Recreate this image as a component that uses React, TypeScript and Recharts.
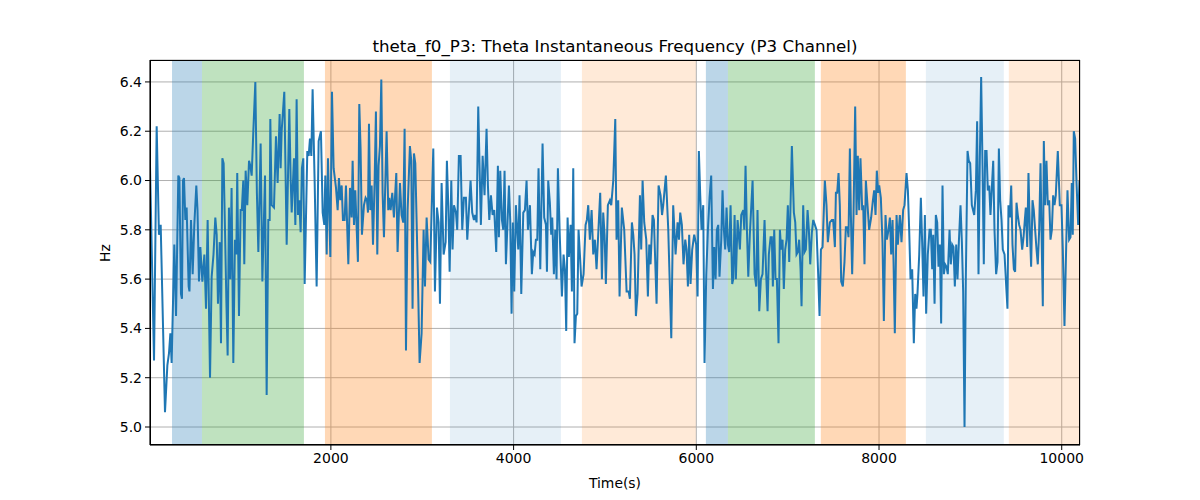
import React from "react";
import {
  LineChart,
  Line,
  XAxis,
  YAxis,
  CartesianGrid,
  ReferenceArea,
} from "recharts";

// readings of the P3 theta instantaneous frequency: [time (s), Hz]
const trace: [number, number][] = [
  [20, 6.06], [64, 5.27], [93, 6.22], [118, 5.78], [137, 5.82], [184, 5.06], [210, 5.25], [228, 5.3],
  [243, 5.38], [257, 5.26], [286, 5.74], [305, 5.45], [330, 6.02], [342, 6.01], [359, 5.54], [370, 5.52],
  [381, 6.0], [392, 6.01], [407, 5.84], [421, 5.89], [443, 5.57], [452, 5.55], [469, 5.84], [487, 5.62],
  [505, 5.82], [527, 5.98], [540, 5.88], [556, 5.59], [571, 5.73], [593, 5.59], [615, 5.7], [633, 5.48],
  [651, 5.84], [677, 5.2], [695, 5.61], [715, 5.7], [735, 5.85], [750, 5.78], [764, 5.5], [783, 5.75],
  [797, 5.34], [812, 6.09], [826, 6.07], [841, 5.8], [856, 5.51], [870, 5.29], [884, 5.89], [898, 5.6],
  [913, 5.97], [932, 5.26], [950, 5.76], [965, 5.7], [975, 6.03], [994, 5.45], [1012, 5.88], [1025, 5.88],
  [1041, 6.0], [1052, 5.66], [1067, 6.04], [1085, 5.9], [1104, 6.08], [1118, 6.06], [1133, 6.02], [1151, 6.2],
  [1173, 6.4], [1190, 5.95], [1206, 5.71], [1231, 6.15], [1250, 5.59], [1279, 6.02], [1297, 5.13], [1315, 5.84],
  [1330, 5.84], [1337, 6.25], [1352, 5.9], [1377, 5.89], [1399, 6.18], [1417, 5.99], [1439, 6.27], [1450, 6.05],
  [1461, 6.2], [1490, 6.36], [1516, 5.74], [1545, 6.29], [1560, 6.0], [1571, 5.87], [1596, 6.09], [1611, 5.82],
  [1625, 6.33], [1640, 5.86], [1654, 5.92], [1669, 5.79], [1683, 6.05], [1698, 6.09], [1713, 5.58], [1742, 6.12],
  [1757, 6.1], [1771, 6.17], [1786, 6.1], [1800, 6.37], [1822, 6.0], [1844, 5.57], [1866, 6.16], [1891, 6.2],
  [1910, 5.87], [1928, 5.82], [1939, 6.02], [1954, 5.7], [1968, 6.09], [1994, 5.69], [2012, 6.36], [2030, 6.05],
  [2056, 5.97], [2074, 5.88], [2088, 6.01], [2103, 5.92], [2118, 5.98], [2132, 5.84], [2150, 5.84], [2165, 5.98],
  [2191, 5.66], [2209, 5.97], [2227, 5.85], [2238, 6.08], [2253, 5.82], [2267, 5.96], [2296, 5.67], [2311, 6.31],
  [2325, 6.13], [2340, 5.78], [2362, 5.9], [2380, 5.93], [2395, 5.92], [2406, 5.87], [2417, 6.23], [2431, 5.88],
  [2446, 5.98], [2461, 5.74], [2479, 6.0], [2493, 6.28], [2508, 5.7], [2522, 6.06], [2537, 6.14], [2552, 6.41],
  [2566, 5.95], [2581, 5.77], [2610, 6.2], [2628, 5.88], [2639, 5.93], [2654, 5.88], [2672, 5.95], [2690, 5.85],
  [2716, 6.03], [2730, 5.71], [2756, 5.99], [2774, 5.86], [2792, 5.83], [2807, 6.21], [2822, 5.31], [2840, 5.88],
  [2865, 6.14], [2880, 6.08], [2894, 5.48], [2909, 6.11], [2924, 6.07], [2953, 5.6], [2971, 5.26], [2993, 5.38],
  [3015, 5.8], [3030, 5.57], [3048, 5.85], [3070, 5.68], [3088, 5.67], [3121, 6.13], [3139, 5.55], [3161, 5.89],
  [3179, 5.83], [3194, 5.5], [3212, 5.99], [3234, 5.7], [3256, 5.75], [3270, 6.08], [3285, 5.9], [3300, 5.63],
  [3318, 6.0], [3332, 5.72], [3347, 5.9], [3369, 5.87], [3383, 5.8], [3401, 6.1], [3420, 6.1], [3438, 5.8],
  [3456, 5.93], [3478, 5.93], [3493, 5.76], [3529, 6.0], [3547, 5.87], [3566, 5.84], [3580, 5.86], [3595, 5.83],
  [3613, 6.3], [3642, 5.82], [3661, 6.1], [3682, 5.94], [3704, 6.21], [3719, 5.98], [3734, 5.84], [3752, 5.94],
  [3770, 5.86], [3788, 5.88], [3810, 5.71], [3828, 6.06], [3839, 5.77], [3854, 6.04], [3872, 5.84], [3887, 5.8],
  [3901, 6.04], [3916, 5.66], [3949, 5.98], [3963, 5.84], [3978, 5.46], [3992, 5.83], [4007, 5.55], [4025, 5.9],
  [4051, 5.72], [4065, 5.94], [4084, 5.54], [4106, 5.87], [4124, 5.88], [4142, 6.0], [4157, 5.8], [4179, 5.9],
  [4200, 5.62], [4215, 5.71], [4230, 5.7], [4244, 5.76], [4259, 5.76], [4273, 6.05], [4292, 5.64], [4317, 6.15],
  [4335, 5.85], [4354, 5.82], [4365, 5.63], [4379, 6.0], [4397, 5.91], [4412, 5.78], [4423, 5.85], [4441, 5.62],
  [4456, 5.8], [4470, 5.6], [4485, 6.05], [4503, 5.8], [4529, 5.53], [4547, 5.7], [4562, 5.64], [4576, 5.39],
  [4591, 5.85], [4605, 5.69], [4624, 5.82], [4638, 5.55], [4653, 6.05], [4667, 5.34], [4682, 5.45], [4697, 5.46],
  [4711, 5.8], [4726, 5.7], [4744, 5.57], [4766, 5.62], [4788, 5.82], [4802, 5.84], [4817, 5.9], [4835, 5.76],
  [4854, 5.88], [4872, 5.7], [4890, 5.76], [4908, 5.64], [4926, 5.78], [4948, 5.95], [4967, 5.6], [4981, 5.87],
  [4996, 5.78], [5010, 5.58], [5032, 5.9], [5054, 5.92], [5069, 5.9], [5091, 6.0], [5113, 6.25], [5127, 5.76],
  [5145, 5.92], [5160, 5.53], [5185, 5.89], [5211, 5.8], [5237, 5.55], [5259, 5.55], [5273, 5.52], [5295, 5.83],
  [5310, 5.78], [5324, 5.7], [5339, 5.45], [5357, 5.54], [5383, 5.94], [5397, 5.72], [5412, 6.0], [5430, 5.83],
  [5452, 5.76], [5470, 5.53], [5485, 5.74], [5499, 5.66], [5521, 5.86], [5536, 5.84], [5565, 5.5], [5587, 5.98],
  [5609, 5.94], [5625, 5.86], [5638, 5.9], [5667, 6.02], [5693, 5.8], [5726, 5.36], [5747, 5.9], [5773, 5.7],
  [5795, 5.83], [5810, 5.76], [5824, 5.87], [5842, 5.82], [5860, 5.66], [5879, 5.76], [5893, 5.72], [5908, 5.57],
  [5922, 5.78], [5937, 5.58], [5955, 5.72], [5977, 5.78], [5999, 5.74], [6014, 5.53], [6028, 6.12], [6043, 5.94],
  [6057, 5.8], [6076, 5.9], [6090, 5.26], [6109, 5.62], [6127, 5.8], [6145, 5.93], [6163, 6.02], [6182, 5.56],
  [6196, 5.73], [6211, 5.6], [6225, 5.8], [6240, 5.82], [6254, 5.61], [6273, 5.76], [6287, 5.96], [6302, 5.8],
  [6316, 5.72], [6331, 5.89], [6346, 5.74], [6360, 5.71], [6375, 5.9], [6393, 5.58], [6404, 5.6], [6419, 5.86],
  [6433, 5.6], [6452, 5.84], [6477, 5.72], [6492, 5.86], [6514, 5.88], [6525, 5.8], [6539, 6.06], [6554, 5.8],
  [6569, 5.61], [6586, 5.78], [6616, 6.0], [6638, 5.62], [6656, 5.57], [6670, 5.88], [6689, 5.47], [6707, 5.6],
  [6725, 5.62], [6747, 5.84], [6762, 5.65], [6780, 5.47], [6794, 5.7], [6813, 5.77], [6827, 5.77], [6838, 5.57],
  [6853, 5.8], [6867, 5.6], [6882, 5.6], [6900, 5.34], [6915, 5.8], [6929, 5.72], [6944, 5.76], [6958, 5.56],
  [6973, 5.72], [6988, 5.76], [7002, 5.9], [7017, 5.67], [7046, 6.14], [7068, 5.87], [7083, 5.83], [7097, 5.7],
  [7112, 5.71], [7126, 5.76], [7141, 5.64], [7152, 5.49], [7170, 5.9], [7185, 5.71], [7199, 5.72], [7218, 5.88],
  [7232, 5.8], [7247, 5.66], [7265, 5.79], [7280, 5.84], [7298, 5.82], [7316, 5.8], [7334, 5.62], [7349, 5.45],
  [7364, 5.72], [7382, 5.73], [7407, 6.0], [7425, 5.9], [7440, 5.75], [7462, 5.83], [7484, 5.84], [7498, 5.84],
  [7517, 5.73], [7528, 5.95], [7542, 5.95], [7557, 6.03], [7571, 5.9], [7586, 5.59], [7604, 5.57], [7622, 5.67],
  [7637, 5.81], [7655, 5.81], [7666, 5.77], [7681, 6.13], [7692, 5.86], [7706, 5.62], [7721, 5.86], [7739, 6.3],
  [7754, 5.86], [7768, 6.1], [7783, 5.88], [7797, 6.09], [7816, 5.88], [7827, 5.9], [7841, 5.66], [7856, 6.0],
  [7874, 5.9], [7892, 5.8], [7914, 5.85], [7933, 5.92], [7947, 5.96], [7962, 5.86], [7976, 6.04], [7991, 5.95],
  [8002, 5.98], [8020, 5.93], [8038, 5.75], [8053, 5.43], [8071, 5.86], [8086, 5.76], [8104, 5.8], [8119, 5.85],
  [8133, 5.7], [8148, 5.84], [8159, 5.67], [8173, 5.38], [8192, 5.86], [8206, 5.74], [8228, 5.86], [8246, 5.75],
  [8264, 5.88], [8279, 5.9], [8301, 6.03], [8316, 5.96], [8330, 5.8], [8345, 5.6], [8363, 5.64], [8381, 5.34],
  [8396, 5.54], [8410, 5.48], [8421, 5.54], [8440, 5.7], [8458, 5.93], [8472, 5.75], [8487, 5.53], [8502, 5.86],
  [8516, 5.46], [8534, 5.7], [8553, 5.8], [8567, 5.8], [8582, 5.64], [8593, 5.78], [8608, 5.5], [8622, 5.86],
  [8637, 5.83], [8651, 5.65], [8666, 5.74], [8680, 5.42], [8695, 5.98], [8710, 5.62], [8724, 5.66], [8739, 5.65],
  [8753, 5.62], [8772, 5.8], [8786, 5.66], [8801, 5.74], [8815, 5.73], [8830, 5.57], [8845, 5.74], [8859, 5.6],
  [8874, 5.75], [8892, 5.9], [8907, 5.75], [8921, 5.55], [8936, 5.0], [8950, 5.6], [8969, 6.12], [8983, 6.08],
  [8998, 6.07], [9016, 5.9], [9042, 5.86], [9060, 5.96], [9074, 6.24], [9089, 5.62], [9104, 6.1], [9118, 6.42],
  [9133, 6.06], [9147, 5.66], [9162, 6.12], [9177, 6.12], [9191, 5.96], [9206, 5.98], [9220, 5.86], [9235, 5.97],
  [9250, 6.08], [9264, 5.8], [9282, 5.62], [9297, 5.67], [9312, 6.13], [9326, 5.92], [9341, 5.84], [9355, 5.72],
  [9374, 5.7], [9388, 5.6], [9406, 5.48], [9417, 5.9], [9432, 5.85], [9447, 5.98], [9461, 5.74], [9476, 5.64],
  [9490, 5.63], [9505, 5.91], [9519, 5.86], [9534, 5.82], [9549, 5.8], [9567, 5.72], [9582, 5.77], [9596, 5.84],
  [9607, 5.89], [9622, 5.73], [9636, 6.03], [9651, 5.8], [9665, 5.65], [9680, 5.92], [9694, 5.88], [9709, 5.8],
  [9724, 5.72], [9738, 5.66], [9753, 5.8], [9768, 6.07], [9779, 5.79], [9793, 5.49], [9804, 6.16], [9818, 5.9],
  [9833, 6.08], [9848, 5.9], [9863, 5.92], [9877, 5.76], [9892, 5.8], [9906, 5.94], [9921, 5.9], [9935, 5.94],
  [9957, 6.12], [9979, 5.9], [9997, 5.9], [10012, 5.72], [10030, 5.41], [10048, 5.72], [10063, 5.96], [10081, 5.76],
  [10096, 5.77], [10110, 5.99], [10121, 5.78], [10132, 6.2], [10147, 6.17], [10162, 5.99], [10180, 5.82], [10194, 6.0],
];

// shaded stages along the time axis
const bands = [
  { from: 261, to: 589, kind: "blue" },
  { from: 589, to: 1705, kind: "green" },
  { from: 1935, to: 3106, kind: "orange" },
  { from: 3303, to: 4518, kind: "paleBlue" },
  { from: 4748, to: 5995, kind: "paleOrange" },
  { from: 6105, to: 6346, kind: "blue" },
  { from: 6346, to: 7298, kind: "green" },
  { from: 7363, to: 8294, kind: "orange" },
  { from: 8513, to: 9366, kind: "paleBlue" },
  { from: 9421, to: 10200, kind: "paleOrange" },
];

const xTicks = [2000, 4000, 6000, 8000, 10000];
const yTicks = [5.0, 5.2, 5.4, 5.6, 5.8, 6.0, 6.2, 6.4];

const bandStyle: Record<string, { fill: string; opacity: number }> = {
  blue: { fill: "#1f77b4", opacity: 0.3 },
  green: { fill: "#2ca02c", opacity: 0.3 },
  orange: { fill: "#ff7f0e", opacity: 0.3 },
  paleBlue: { fill: "#1f77b4", opacity: 0.11 },
  paleOrange: { fill: "#ff7f0e", opacity: 0.16 },
};

const font = "'DejaVu Sans', sans-serif";
const tickStyle = { fontSize: 14, fill: "#000", fontFamily: font };

export default function App() {
  const data = trace.map(([t, v]) => ({ t, v }));

  return (
    <div
      style={{
        position: "absolute",
        left: 0,
        top: 0,
        width: 1200,
        height: 500,
        background: "#fff",
        fontFamily: font,
      }}
    >
      <div
        style={{
          position: "absolute",
          left: 150,
          top: 36,
          width: 930,
          textAlign: "center",
          fontSize: 16.7,
          lineHeight: "20px",
          color: "#000",
        }}
      >
        theta_f0_P3: Theta Instantaneous Frequency (P3 Channel)
      </div>
      <div
        style={{
          position: "absolute",
          left: 105 - 20,
          top: 253 - 10,
          width: 40,
          height: 20,
          lineHeight: "20px",
          textAlign: "center",
          fontSize: 13.9,
          transform: "rotate(-90deg)",
          color: "#000",
        }}
      >
        Hz
      </div>
      <LineChart
        width={1200}
        height={500}
        data={data}
        margin={{ top: 60, right: 120, bottom: 0, left: 90 }}
      >
        <CartesianGrid stroke="#b0b0b0" strokeWidth={1} />
        {bands.map((b, i) => (
          <ReferenceArea
            key={`band-${i}`}
            x1={b.from}
            x2={b.to}
            fill={bandStyle[b.kind].fill}
            fillOpacity={bandStyle[b.kind].opacity}
            stroke="none"
            ifOverflow="hidden"
          />
        ))}
        <XAxis
          dataKey="t"
          type="number"
          domain={[20, 10200]}
          ticks={xTicks}
          allowDataOverflow
          height={55}
          tick={tickStyle}
          tickSize={5}
          tickMargin={3}
          stroke="#000"
          label={{
            value: "Time(s)",
            position: "insideBottom",
            offset: 12,
            style: { fontSize: 13.9, fill: "#000", fontFamily: font },
          }}
        />
        <YAxis
          type="number"
          domain={[4.927, 6.489]}
          ticks={yTicks}
          allowDataOverflow
          width={60}
          tick={tickStyle}
          tickSize={5}
          tickMargin={3}
          stroke="#000"
          tickFormatter={(v: number) => v.toFixed(1)}
        />
        <Line
          dataKey="v"
          type="linear"
          stroke="#1f77b4"
          strokeWidth={2}
          dot={false}
          isAnimationActive={false}
        />
      </LineChart>
      <div
        style={{
          position: "absolute",
          left: 150,
          top: 60,
          width: 930,
          height: 385,
          boxSizing: "border-box",
          border: "1px solid #000",
          pointerEvents: "none",
        }}
      />
    </div>
  );
}
